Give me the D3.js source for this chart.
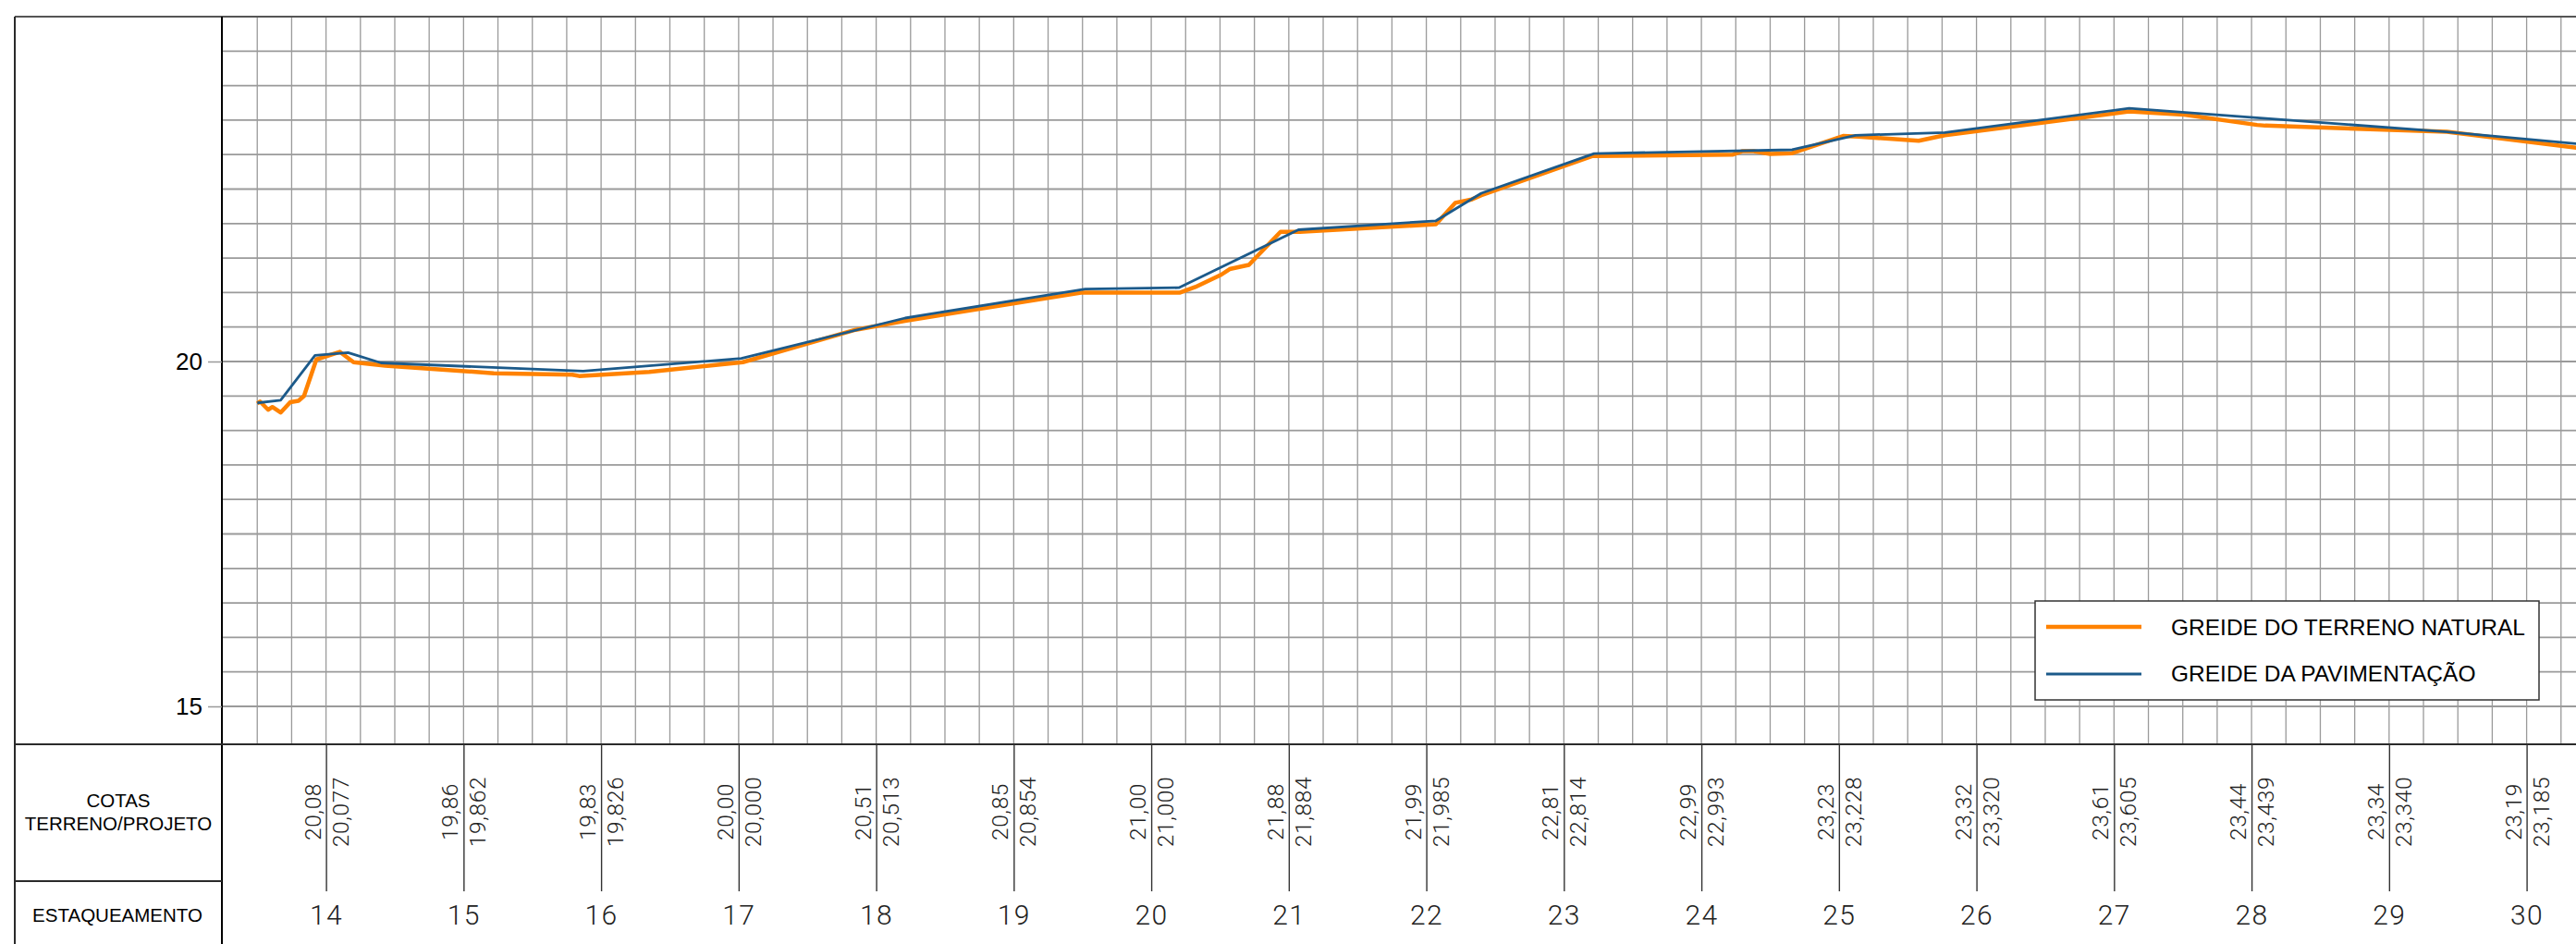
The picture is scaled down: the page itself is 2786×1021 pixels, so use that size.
<!DOCTYPE html>
<html>
<head>
<meta charset="utf-8">
<script src="https://cdn.jsdelivr.net/npm/d3@7"></script>
<style>
  body { margin: 0; background: #fff; }
  svg { display: block; }
</style>
</head>
<body>
<svg id="perfil"></svg>
<script>
// Estacas e cotas lidas no rodapé do perfil
const estacas = [14, 15, 16, 17, 18, 19, 20, 21, 22, 23, 24, 25, 26, 27, 28, 29, 30]
const cotasTerreno = [20.08, 19.86, 19.83, 20.00, 20.51, 20.85, 21.00, 21.88, 21.99, 22.81, 22.99, 23.23, 23.32, 23.61, 23.44, 23.34, 23.19]
const cotasProjeto = [20.077, 19.862, 19.826, 20.000, 20.513, 20.854, 21.000, 21.884, 21.985, 22.814, 22.993, 23.228, 23.320, 23.605, 23.439, 23.340, 23.185]

// [estaca, cota]
const greideTerreno = [
  [13.50, 19.39], [13.52, 19.42], [13.58, 19.30], [13.61, 19.34], [13.67, 19.26],
  [13.74, 19.41], [13.80, 19.43], [13.84, 19.50], [13.93, 20.03], [14.10, 20.14],
  [14.20, 19.99], [14.43, 19.94], [15.22, 19.83], [15.79, 19.81], [15.84, 19.79],
  [16.35, 19.85], [17.03, 19.99], [17.85, 20.46], [18.21, 20.59], [19.50, 21.00],
  [20.21, 21.00], [20.32, 21.08], [20.51, 21.26], [20.57, 21.34], [20.71, 21.40],
  [20.94, 21.88], [21.08, 21.88], [22.07, 21.99], [22.21, 22.30], [22.33, 22.35],
  [22.40, 22.41], [23.21, 22.98], [24.23, 23.00], [24.30, 23.05], [24.38, 23.05],
  [24.50, 23.01], [24.66, 23.02], [25.03, 23.27], [25.14, 23.26], [25.58, 23.20],
  [25.77, 23.28], [27.11, 23.625], [27.25, 23.61], [27.51, 23.58], [28.04, 23.43],
  [28.10, 23.42], [29.42, 23.33], [30.40, 23.09]
]
const greidePavimentacao = [
  [13.50, 19.40], [13.67, 19.44], [13.92, 20.09], [14.16, 20.13], [14.40, 19.98],
  [15.87, 19.86], [17.02, 20.045], [18.21, 20.63], [19.52, 21.05], [20.20, 21.07],
  [21.07, 21.91], [22.07, 22.04], [22.40, 22.44], [23.22, 23.015], [24.66, 23.07],
  [25.12, 23.28], [25.77, 23.32], [27.11, 23.67], [29.42, 23.33], [30.40, 23.15]
]

const cotaTicks = [15, 20]
const legenda = ["GREIDE DO TERRENO NATURAL", "GREIDE DA PAVIMENTAÇÃO"]

const CorTerreno = "#ff8200"
const CorPavimento = "#1c5a8a"
const CorGrade = "#9a9a9a"
const CorMoldura = "#2a2a2a"
const FonteCad = "Roboto, 'DejaVu Sans', sans-serif"
const FonteTitulo = "'Liberation Sans', Arial, sans-serif"

const width = 2786, height = 1021
const painelEsq = 16, painelDir = 240
const grafBase = 805, linhaEstaq = 953

const ptBR = d3.formatLocale({ decimal: ",", thousands: ".", grouping: [3], currency: ["R$", ""] })
const fmt2 = ptBR.format(".2f"), fmt3 = ptBR.format(".3f")

const svg = d3.select("#perfil").attr("width", width).attr("height", height)

const x = d3.scaleLinear().domain([14, 30]).range([352.6, 2732.6])
const y = d3.scaleLinear().domain([15, 20]).range([764, 391])
const topo = y(25)

// grade
const grade = svg.append("g")
grade.selectAll("line.v")
  .data(d3.range(13.5, 31, 0.25))
  .join("line")
  .attr("x1", d => x(d)).attr("x2", d => x(d))
  .attr("y1", topo).attr("y2", grafBase)
  .attr("stroke", CorGrade).attr("stroke-width", 1.3)
grade.selectAll("line.h")
  .data(d3.range(15, 25, 0.5))
  .join("line")
  .attr("x1", painelDir).attr("x2", width)
  .attr("y1", d => y(d)).attr("y2", d => y(d))
  .attr("stroke", CorGrade).attr("stroke-width", 1.8)

// linhas do greide
const linha = d3.line().x(d => x(d[0])).y(d => y(d[1]))
svg.append("path").datum(greideTerreno)
  .attr("d", linha).attr("fill", "none")
  .attr("stroke", CorTerreno).attr("stroke-width", 4.5).attr("stroke-linejoin", "round")
svg.append("path").datum(greidePavimentacao)
  .attr("d", linha).attr("fill", "none")
  .attr("stroke", CorPavimento).attr("stroke-width", 2.8).attr("stroke-linejoin", "round")

// moldura
const moldura = svg.append("g").attr("stroke", CorMoldura).attr("stroke-width", 2)
moldura.append("line").attr("x1", painelEsq).attr("x2", width).attr("y1", topo).attr("y2", topo).attr("stroke", "#555")
moldura.append("line").attr("x1", painelEsq).attr("x2", painelEsq).attr("y1", topo).attr("y2", height)
moldura.append("line").attr("x1", painelDir).attr("x2", painelDir).attr("y1", topo).attr("y2", height).attr("stroke", "#000")
moldura.append("line").attr("x1", painelEsq).attr("x2", width).attr("y1", grafBase).attr("y2", grafBase)
moldura.append("line").attr("x1", painelEsq).attr("x2", painelDir).attr("y1", linhaEstaq).attr("y2", linhaEstaq)

// eixo de cotas
const eixoY = svg.append("g")
  .attr("transform", `translate(${painelDir},0)`)
  .call(d3.axisLeft(y).tickValues(cotaTicks).tickSize(15).tickPadding(6).tickFormat(d3.format("d")))
eixoY.select(".domain").remove()
eixoY.selectAll("line").attr("stroke", CorGrade).attr("stroke-width", 1.5)
eixoY.selectAll("text").attr("font-family", FonteTitulo).attr("font-size", 26).attr("fill", "#000")

// eixo de estacas
const eixoX = svg.append("g")
  .attr("transform", `translate(0,${grafBase})`)
  .call(d3.axisBottom(x).tickValues(estacas).tickSize(159).tickPadding(15).tickFormat(d3.format("d")))
eixoX.select(".domain").remove()
eixoX.selectAll("line").attr("stroke", "#333").attr("stroke-width", 1.4)
eixoX.selectAll("text").attr("font-family", FonteCad).attr("font-weight", 300)
  .attr("font-size", 30).attr("letter-spacing", 1.5).attr("fill", "#222")

// cotas terreno / projeto
const cotas = svg.append("g").attr("font-family", FonteCad).attr("font-weight", 300)
  .attr("font-size", 24.5).attr("letter-spacing", 0.6).attr("fill", "#222").attr("text-anchor", "middle")
cotas.selectAll("text.t")
  .data(estacas)
  .join("text")
  .attr("transform", d => `translate(${x(d) - 6},878) rotate(-90)`)
  .text((d, i) => fmt2(cotasTerreno[i]))
cotas.selectAll("text.p")
  .data(estacas)
  .join("text")
  .attr("transform", d => `translate(${x(d) + 24},878) rotate(-90)`)
  .text((d, i) => fmt3(cotasProjeto[i]))

// rótulos do painel esquerdo
const painel = svg.append("g").attr("font-family", FonteTitulo).attr("font-size", 20.5)
  .attr("text-anchor", "middle").attr("fill", "#000")
painel.append("text").attr("x", 128).attr("y", 873).text("COTAS")
painel.append("text").attr("x", 128).attr("y", 898).text("TERRENO/PROJETO")
painel.append("text").attr("x", 127).attr("y", 997).text("ESTAQUEAMENTO")

// legenda
const leg = svg.append("g").attr("transform", "translate(2201,650)")
leg.append("rect").attr("width", 545).attr("height", 107)
  .attr("fill", "#fff").attr("stroke", "#333").attr("stroke-width", 1.5)
leg.selectAll("line")
  .data(legenda)
  .join("line")
  .attr("x1", 12).attr("x2", 115)
  .attr("y1", (d, i) => 28 + i * 51).attr("y2", (d, i) => 28 + i * 51)
  .attr("stroke", (d, i) => i ? CorPavimento : CorTerreno)
  .attr("stroke-width", (d, i) => i ? 3 : 4.5)
leg.selectAll("text")
  .data(legenda)
  .join("text")
  .attr("x", 147).attr("y", (d, i) => 37 + i * 50)
  .attr("font-family", FonteTitulo).attr("font-size", 24.5).attr("fill", "#000")
  .text(d => d)
</script>
</body>
</html>
